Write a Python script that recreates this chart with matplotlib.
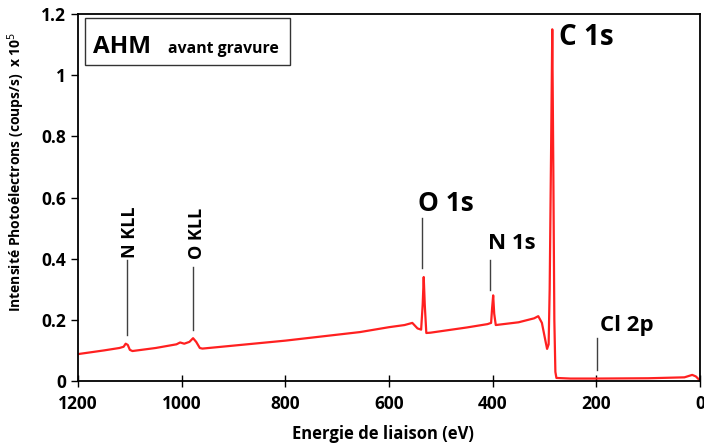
import matplotlib
matplotlib.use("Agg")
import matplotlib.pyplot as plt
from matplotlib.patches import Rectangle
from matplotlib.ticker import FuncFormatter

# spectre XPS (énergie de liaison en eV, intensité x 1e5 coups/s)
energie = [1200, 1150, 1120, 1112, 1108, 1104, 1100, 1095, 1050, 1010, 1003, 995,
           985, 978, 972, 965, 960, 800, 656, 600, 570, 555, 545, 538, 535, 533,
           531, 528, 520, 450, 410, 403, 401, 399, 397, 394, 350, 320, 312, 305,
           298, 295, 292, 290, 287, 285, 283, 281, 279, 277, 250, 200, 100, 30,
           15, 8, 2, 0]
intensite = [0.088, 0.100, 0.108, 0.112, 0.122, 0.118, 0.102, 0.098, 0.108, 0.120,
             0.126, 0.122, 0.128, 0.140, 0.128, 0.108, 0.106, 0.132, 0.160, 0.176,
             0.183, 0.190, 0.172, 0.168, 0.250, 0.340, 0.250, 0.157, 0.158, 0.175,
             0.186, 0.190, 0.240, 0.280, 0.220, 0.183, 0.192, 0.205, 0.212, 0.190,
             0.130, 0.105, 0.120, 0.300, 0.800, 1.150, 0.700, 0.200, 0.030, 0.010,
             0.008, 0.008, 0.009, 0.012, 0.020, 0.015, 0.005, 0.0]

# étiquettes des pics: énergie du trait, y bas / haut du trait
pics_e = [1105, 978, 536, 405, 198]
trait_bas = [0.150, 0.167, 0.369, 0.297, 0.036]
trait_haut = [0.395, 0.373, 0.533, 0.395, 0.140]

plt.rcParams['font.family'] = ['Open Sans', 'DejaVu Sans']

fig = plt.figure(figsize=(7.04, 4.45), dpi=100)
ax = fig.add_axes([0.1108, 0.1438, 0.8835, 0.8247])

ax.plot(energie, intensite, color='#ff2020', lw=1.6)

for e, y0, y1 in zip(pics_e, trait_bas, trait_haut):
    ax.plot([e, e], [y0, y1], color='#404040', lw=1)

# textes des pics
ax.text(1099, 0.487, "N KLL", rotation=90, ha='center', va='center', fontsize=13, fontweight='bold')
ax.text(971, 0.484, "O KLL", rotation=90, ha='center', va='center', fontsize=13, fontweight='bold')
ax.text(544, 0.582, "O 1s", ha='left', va='center', fontsize=19, fontweight='bold')
ax.text(409, 0.45, "N 1s", ha='left', va='center', fontsize=16, fontweight='bold')
ax.text(192, 0.18, "Cl 2p", ha='left', va='center', fontsize=16, fontweight='bold')
ax.text(272, 1.172, "C 1s", ha='left', va='top', fontsize=20, fontweight='bold')

# cadre du titre
ax.add_patch(Rectangle((0.011, 0.861), 0.330, 0.128, transform=ax.transAxes,
                       fill=False, ec='#333333', lw=1))
ax.text(0.024, 0.894, "AHM", transform=ax.transAxes, fontsize=17.5, fontweight='bold',
        va='baseline')
ax.text(0.145, 0.894, "avant gravure", transform=ax.transAxes, fontsize=11.3,
        fontweight='bold', va='baseline')

ax.set_xlim(1200, 0)
ax.set_ylim(0, 1.2)
ax.set_xticks([1200, 1000, 800, 600, 400, 200, 0])
ax.set_yticks([0, 0.2, 0.4, 0.6, 0.8, 1.0, 1.2])
ax.yaxis.set_major_formatter(FuncFormatter(lambda v, p: f"{v:g}"))
ax.tick_params(axis='x', direction='inout', length=8, width=1, labelsize=12.5, pad=6)
ax.tick_params(axis='y', direction='out', length=5, width=1, labelsize=12.5)
for lab in ax.get_xticklabels() + ax.get_yticklabels():
    lab.set_fontweight('bold')
for s in ax.spines.values():
    s.set_linewidth(1.3)

ax.set_xlabel("Energie de liaison (eV)", fontsize=12, fontweight='bold')
ax.set_ylabel("Intensité Photoélectrons (coups/s)  x 10$^5$", fontsize=10, fontweight='bold')
ax.yaxis.set_label_coords(-0.082, 0.57)
ax.xaxis.set_label_coords(0.49, -0.12)

fig.savefig("out.png", dpi=100)
